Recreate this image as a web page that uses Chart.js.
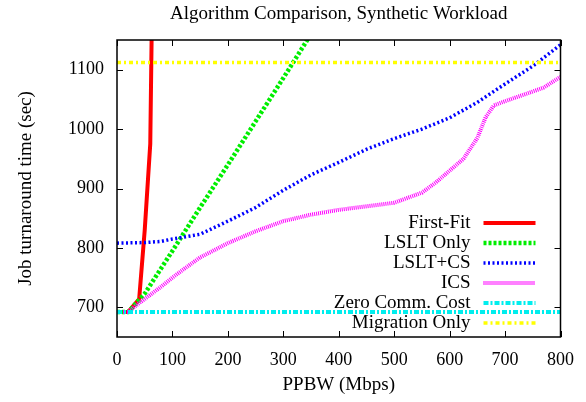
<!DOCTYPE html>
<html>
<head>
<meta charset="utf-8">
<script src="https://cdn.jsdelivr.net/npm/chart.js@4.4.0/dist/chart.umd.min.js"></script>
<style>
html, body { margin: 0; padding: 0; background: #fff; }
#wrap { width: 586px; height: 402px; }
</style>
</head>
<body>
<div id="wrap"><canvas id="chart"></canvas></div>
<script>
// values
const chartTitle = 'Algorithm Comparison, Synthetic Workload';
const seriesNames = ['First-Fit', 'LSLT Only', 'LSLT+CS', 'ICS', 'Zero Comm. Cost', 'Migration Only'];

const firstFitBw = [0, 20, 40, 50, 60, 70];
const firstFitTime = [692, 692, 714, 830, 975, 1700];

const lsltBw = [0, 20, 50, 100, 150, 200, 250, 300, 350];
const lsltTime = [692, 692, 723, 795, 868, 940, 1013, 1086, 1160];

const lsltCsBw = [0, 50, 80, 100, 150, 200, 250, 300, 350, 400, 450, 500, 550, 600, 650, 700, 750, 800];
const lsltCsTime = [808, 809, 811, 815, 823, 845, 868, 897, 923, 944, 966, 984, 1000, 1019, 1045, 1076, 1106, 1142];

const icsBw = [0, 20, 40, 60, 80, 100, 120, 150, 200, 250, 300, 350, 400, 450, 500, 550, 575, 600, 625, 650, 665, 680, 700, 740, 770, 800];
const icsTime = [692, 692, 707, 721, 735, 750, 764, 784, 808, 828, 845, 856, 864, 870, 876, 893, 910, 930, 950, 985, 1020, 1040, 1047, 1060, 1070, 1088];

const zeroCommBw = [0, 800];
const zeroCommTime = [692, 692];

const migrationBw = [0, 800];
const migrationTime = [1112, 1112];

const xTicks = [0, 100, 200, 300, 400, 500, 600, 700, 800];
const yTicks = [700, 800, 900, 1000, 1100];

const serif = "'Liberation Serif', 'DejaVu Serif', serif";

function toPoints(xs, ys) {
    return xs.map((x, i) => ({ x: x, y: ys[i] }));
}

function makeSet(label, xs, ys, color, width, dash, order) {
    return {
        label: label,
        data: toPoints(xs, ys),
        borderColor: color,
        backgroundColor: color,
        borderWidth: width,
        borderDash: dash,
        borderCapStyle: 'butt',
        pointRadius: 0,
        tension: 0,
        fill: false,
        clip: 0,
        order: order
    };
}

// title centred over the plot area, like gnuplot does
const titlePlugin = {
    id: 'plotTitle',
    afterDraw(chart) {
        const ctx = chart.ctx;
        const a = chart.chartArea;
        ctx.save();
        ctx.font = '19px ' + serif;
        ctx.fillStyle = '#000';
        ctx.textAlign = 'center';
        ctx.textBaseline = 'middle';
        ctx.fillText(chartTitle, (a.left + a.right) / 2, 14);
        ctx.restore();
    }
};

// gnuplot style key: right aligned text with a line sample after it
const keyPlugin = {
    id: 'key',
    afterDatasetsDraw(chart) {
        const ctx = chart.ctx;
        const area = chart.chartArea;
        ctx.save();
        ctx.font = '19px ' + serif;
        ctx.fillStyle = '#000';
        ctx.textAlign = 'right';
        ctx.textBaseline = 'middle';
        chart.data.datasets.forEach((ds, i) => {
            const y = area.top + 183 + i * 20;
            ctx.fillText(ds.label, area.right - 90, y);
            ctx.beginPath();
            ctx.strokeStyle = ds.borderColor;
            ctx.lineWidth = ds.borderWidth;
            ctx.setLineDash(ds.borderDash);
            ctx.lineCap = 'butt';
            ctx.moveTo(area.right - 77, y);
            ctx.lineTo(area.right - 25, y);
            ctx.stroke();
        });
        ctx.restore();
    }
};

// border box and inward ticks on all four sides
const framePlugin = {
    id: 'frame',
    afterDatasetsDraw(chart) {
        const ctx = chart.ctx;
        const a = chart.chartArea;
        const xs = chart.scales.x;
        const ys = chart.scales.y;
        const len = 6;
        ctx.save();
        ctx.strokeStyle = '#000';
        ctx.lineWidth = 1.5;
        ctx.setLineDash([]);
        ctx.strokeRect(a.left, a.top, a.right - a.left, a.bottom - a.top);
        ctx.lineWidth = 1;
        ctx.beginPath();
        xTicks.forEach(v => {
            const px = Math.round(xs.getPixelForValue(v)) + 0.5;
            ctx.moveTo(px, a.bottom);
            ctx.lineTo(px, a.bottom - len);
            ctx.moveTo(px, a.top);
            ctx.lineTo(px, a.top + len);
        });
        yTicks.forEach(v => {
            const py = Math.round(ys.getPixelForValue(v)) + 0.5;
            ctx.moveTo(a.left, py);
            ctx.lineTo(a.left + len, py);
            ctx.moveTo(a.right, py);
            ctx.lineTo(a.right - len, py);
        });
        ctx.stroke();
        ctx.restore();
    }
};

const ctx = document.getElementById('chart').getContext('2d');
const chart = new Chart(ctx, {
    type: 'line',
    data: {
        datasets: [
            makeSet(seriesNames[0], firstFitBw, firstFitTime, '#ff0000', 4, [], 6),
            makeSet(seriesNames[1], lsltBw, lsltTime, '#00ee00', 4.5, [3, 2], 5),
            makeSet(seriesNames[2], lsltCsBw, lsltCsTime, '#0000ff', 3.5, [2, 2.5], 4),
            makeSet(seriesNames[3], icsBw, icsTime, '#ff00ff', 4, [1, 1], 3),
            makeSet(seriesNames[4], zeroCommBw, zeroCommTime, '#00eeee', 4, [5, 2, 2, 2], 2),
            makeSet(seriesNames[5], migrationBw, migrationTime, '#ffff00', 3.5, [4, 3, 2, 3], 1)
        ]
    },
    options: {
        responsive: true,
        maintainAspectRatio: false,
        animation: false,
        devicePixelRatio: 1,
        layout: { padding: { left: 0, right: 21, top: 40, bottom: 0 } },
        plugins: {
            legend: { display: false },
            tooltip: { enabled: false },
            title: { display: false }
        },
        scales: {
            x: {
                type: 'linear',
                min: 0,
                max: 800,
                grid: { display: false, drawTicks: false },
                border: { display: false },
                afterBuildTicks(scale) { scale.ticks = xTicks.map(v => ({ value: v })); },
                ticks: {
                    padding: 12,
                    color: '#000',
                    font: { family: serif, size: 18 },
                    maxRotation: 0,
                    autoSkip: false,
                    callback: v => String(v)
                },
                title: {
                    display: true,
                    text: 'PPBW (Mbps)',
                    color: '#000',
                    font: { family: serif, size: 19 },
                    padding: { top: 0, bottom: 6 }
                },
                afterFit(scale) { scale.height = 65; }
            },
            y: {
                type: 'linear',
                min: 650,
                max: 1150,
                grid: { display: false, drawTicks: false },
                border: { display: false },
                afterBuildTicks(scale) { scale.ticks = yTicks.map(v => ({ value: v })); },
                ticks: {
                    padding: 13,
                    color: '#000',
                    font: { family: serif, size: 18 },
                    autoSkip: false,
                    callback: v => String(v)
                },
                title: {
                    display: true,
                    text: 'Job turnaround time (sec)',
                    color: '#000',
                    font: { family: serif, size: 19 },
                    padding: { top: 15, bottom: 0 }
                },
                afterFit(scale) { scale.width = 117; }
            }
        }
    },
    plugins: [framePlugin, keyPlugin, titlePlugin]
});
</script>
</body>
</html>
